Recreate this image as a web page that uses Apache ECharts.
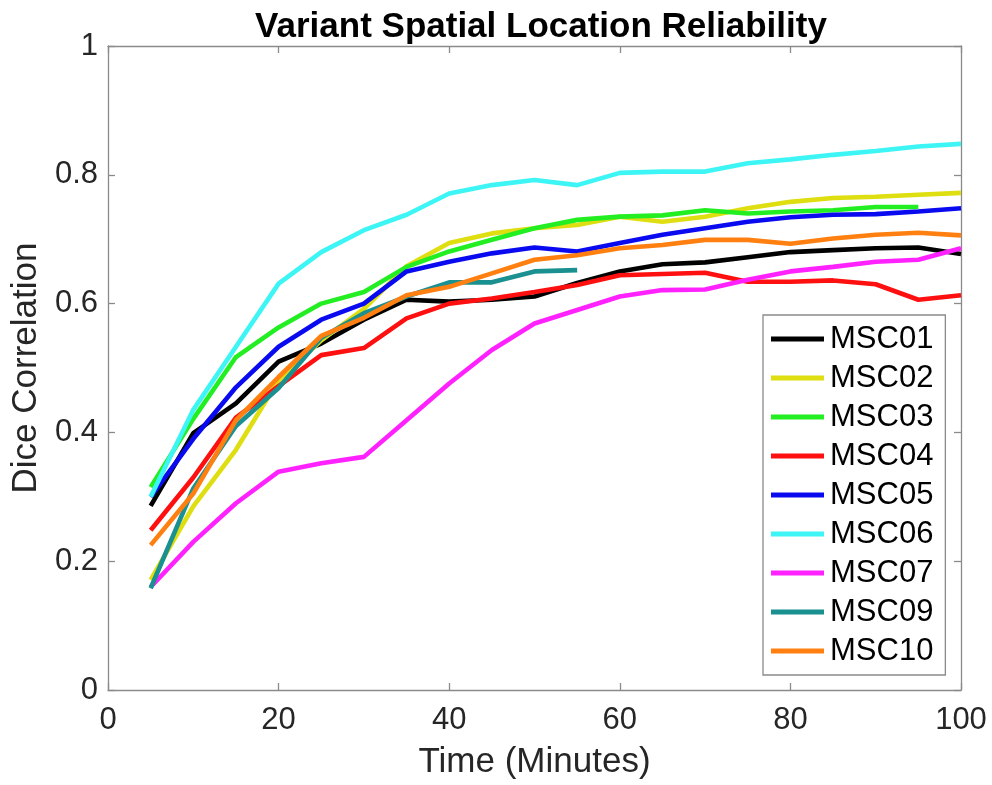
<!DOCTYPE html>
<html>
<head>
<meta charset="utf-8">
<script src="https://cdn.jsdelivr.net/npm/echarts@6/dist/echarts.min.js"></script>
<style>
  html, body { margin: 0; padding: 0; background: #fff; }
  #chart { width: 992px; height: 785px; }
</style>
</head>
<body>
<div id="chart"></div>
<script>
// time points (minutes)
const times = [5, 10, 15, 20, 25, 30, 35, 40, 45, 50, 55, 60, 65, 70, 75, 80, 85, 90, 95, 100]

const msc01 = [0.286, 0.399, 0.445, 0.510, 0.538, 0.575, 0.606, 0.603, 0.606, 0.611, 0.632, 0.650, 0.661, 0.664, 0.672, 0.680, 0.683, 0.686, 0.687, 0.677]
const msc02 = [0.171, 0.285, 0.373, 0.481, 0.543, 0.592, 0.658, 0.694, 0.709, 0.717, 0.722, 0.735, 0.727, 0.735, 0.748, 0.758, 0.764, 0.766, 0.769, 0.772]
const msc03 = [0.315, 0.421, 0.517, 0.563, 0.600, 0.618, 0.657, 0.681, 0.699, 0.717, 0.730, 0.735, 0.737, 0.745, 0.740, 0.743, 0.745, 0.750, 0.750]
const msc04 = [0.248, 0.330, 0.423, 0.472, 0.520, 0.531, 0.577, 0.600, 0.608, 0.618, 0.629, 0.644, 0.646, 0.648, 0.634, 0.634, 0.636, 0.630, 0.606, 0.613]
const msc05 = [0.300, 0.390, 0.470, 0.533, 0.575, 0.600, 0.650, 0.665, 0.678, 0.687, 0.681, 0.694, 0.707, 0.717, 0.727, 0.734, 0.738, 0.739, 0.743, 0.748]
const msc06 = [0.300, 0.435, 0.533, 0.631, 0.680, 0.714, 0.738, 0.771, 0.784, 0.792, 0.784, 0.803, 0.805, 0.805, 0.818, 0.824, 0.831, 0.837, 0.844, 0.848]
const msc07 = [0.160, 0.230, 0.290, 0.339, 0.352, 0.362, 0.419, 0.476, 0.528, 0.569, 0.590, 0.611, 0.621, 0.622, 0.637, 0.650, 0.657, 0.665, 0.668, 0.686]
const msc09 = [0.158, 0.313, 0.410, 0.469, 0.547, 0.585, 0.611, 0.633, 0.633, 0.650, 0.652]
const msc10 = [0.225, 0.305, 0.419, 0.486, 0.550, 0.578, 0.613, 0.626, 0.647, 0.668, 0.675, 0.686, 0.691, 0.699, 0.699, 0.693, 0.701, 0.707, 0.710, 0.706]

const names = ['MSC01', 'MSC02', 'MSC03', 'MSC04', 'MSC05', 'MSC06', 'MSC07', 'MSC09', 'MSC10']
const values = [msc01, msc02, msc03, msc04, msc05, msc06, msc07, msc09, msc10]
const colors = ['#000000', '#dede10', '#22ee22', '#ff1010', '#0a0af0', '#3ef5f5', '#ff22ff', '#1a9090', '#ff8010']

const xTicks = [0, 20, 40, 60, 80, 100]
const yTicks = [0, 0.2, 0.4, 0.6, 0.8, 1]

const font = '"Liberation Sans", Arial, sans-serif'
const axisGray = '#8a8a8a'
const labelColor = '#262626'

const chart = echarts.init(document.getElementById('chart'), null, { renderer: 'canvas' })

// shared look for the four sides of the box (matlab style, ticks inside)
const boxAxis = {
  axisLine: { show: true, onZero: false, lineStyle: { color: axisGray, width: 1.3 } },
  axisTick: { show: true, inside: true, length: 7, lineStyle: { color: axisGray, width: 1.3 } },
  splitLine: { show: false }
}

chart.setOption({
  animation: false,
  color: colors,
  title: {
    text: 'Variant Spatial Location Reliability',
    left: 536, top: 5, textAlign: 'center',
    textStyle: { fontFamily: font, fontSize: 35, fontWeight: 'bold', color: '#000' }
  },
  grid: { left: 108, right: 31, top: 46, bottom: 94 },
  legend: {
    orient: 'vertical',
    left: 763, top: 315,
    padding: [8, 12, 8, 8],
    itemWidth: 53, itemHeight: 5, itemGap: 7,
    icon: 'rect',
    backgroundColor: '#fff',
    borderColor: axisGray, borderWidth: 1.3, borderRadius: 0,
    textStyle: { fontFamily: font, fontSize: 31, lineHeight: 32, color: '#000', padding: [0, 0, 0, 1] },
    data: names
  },
  xAxis: [
    Object.assign({
      type: 'value', min: xTicks[0], max: xTicks[xTicks.length - 1], interval: 20,
      name: 'Time (Minutes)', nameLocation: 'middle', nameGap: 55,
      nameTextStyle: { fontFamily: font, fontSize: 35, color: labelColor },
      axisLabel: { fontFamily: font, fontSize: 31, color: labelColor, margin: 15 }
    }, boxAxis),
    Object.assign({
      type: 'value', position: 'top', min: xTicks[0], max: xTicks[xTicks.length - 1], interval: 20,
      axisLabel: { show: false }
    }, boxAxis)
  ],
  yAxis: [
    Object.assign({
      type: 'value', min: yTicks[0], max: yTicks[yTicks.length - 1], interval: 0.2,
      name: 'Dice Correlation', nameLocation: 'middle', nameGap: 61,
      nameTextStyle: { fontFamily: font, fontSize: 35, color: labelColor },
      axisLabel: { fontFamily: font, fontSize: 31, color: labelColor, margin: 10 }
    }, boxAxis),
    Object.assign({
      type: 'value', position: 'right', min: yTicks[0], max: yTicks[yTicks.length - 1], interval: 0.2,
      axisLabel: { show: false }
    }, boxAxis)
  ],
  series: names.map((n, i) => ({
    name: n,
    type: 'line',
    showSymbol: false,
    symbol: 'none',
    lineStyle: { width: 4.6, color: colors[i] },
    itemStyle: { color: colors[i] },
    data: values[i].map((v, k) => [times[k], v])
  }))
})
</script>
</body>
</html>
